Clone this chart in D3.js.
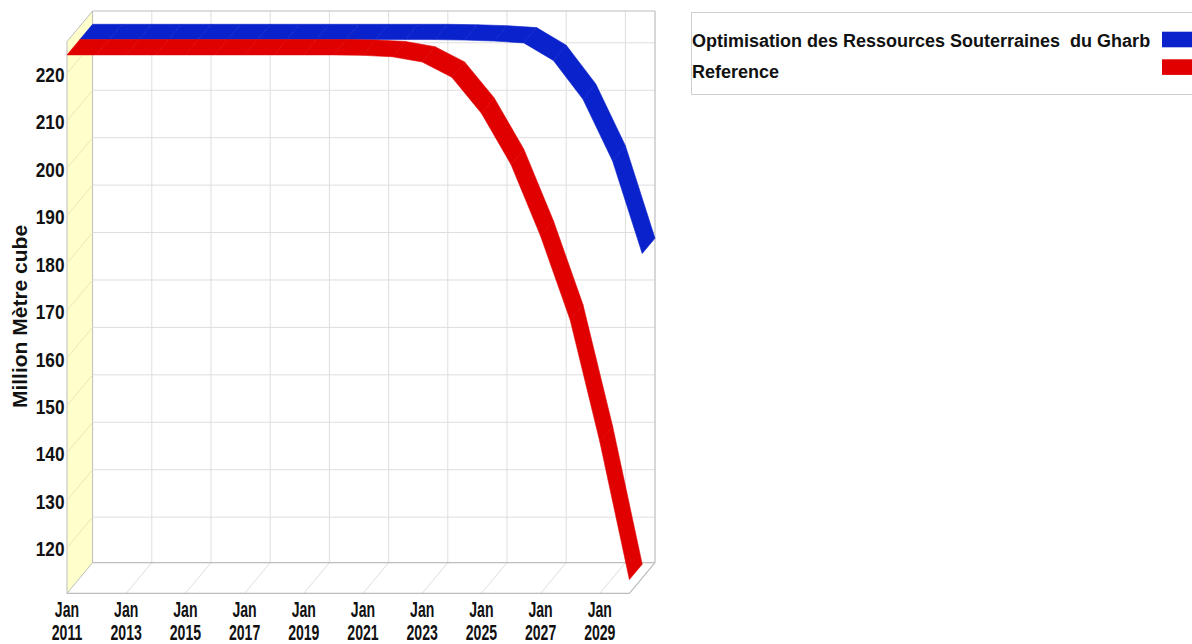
<!DOCTYPE html>
<html>
<head>
<meta charset="utf-8">
<script src="https://cdn.jsdelivr.net/npm/d3@7"></script>
<style>
  html, body { margin: 0; padding: 0; background: #fff; }
  svg { display: block; font-family: "Liberation Sans", Arial, sans-serif; }
  .bold { font-weight: bold; fill: #111; }
</style>
</head>
<body>
<svg id="chart" width="1192" height="644"></svg>
<script>
// Annual values, million m³
const years = [2011, 2012, 2013, 2014, 2015, 2016, 2017, 2018, 2019, 2020,
               2021, 2022, 2023, 2024, 2025, 2026, 2027, 2028, 2029, 2030];
const optimisation = [223.9, 223.9, 223.9, 223.9, 223.9, 223.9, 223.9, 223.9, 223.9, 223.9,
                      223.9, 223.9, 223.9, 223.8, 223.6, 223.2, 219.5, 211.3, 198.3, 178.8];
const reference = [223.9, 223.9, 223.9, 223.9, 223.9, 223.9, 223.9, 223.9, 223.9, 223.9,
                   223.8, 223.5, 222.4, 219.2, 211.6, 200.8, 185.7, 168.0, 142.4, 113.3];
const seriesNames = ["Optimisation des Ressources Souterraines  du Gharb", "Reference"];
const seriesColors = ["#0a22cc", "#e00000"];
const yTicks = [120, 130, 140, 150, 160, 170, 180, 190, 200, 210, 220];
const xTickYears = [2011, 2013, 2015, 2017, 2019, 2021, 2023, 2025, 2027, 2029];
const xTickLabels = xTickYears.map(y => ["Jan", String(y)]);
const yTitle = "Million Mètre cube";

const svg = d3.select("#chart");

// front plane scales; the back wall is offset by the depth vector
const x = d3.scaleLinear().domain([2011, 2030]).range([67, 629.4]);
const y = d3.scaleLinear().domain([110.4, 226.7]).range([593.3, 41.6]);
const depth = { dx: 25.6, dy: -30.6 };
const P = (t, v, z) => [x(t) + z * depth.dx, y(v) + z * depth.dy];
const [y0, y1] = y.range();
const [x0, x1] = x.range();

const gridColor = "#dedede";
const edgeColor = "#bdbdbd";

// back wall
const back = svg.append("g");
back.append("rect")
  .attr("x", x0 + depth.dx).attr("y", y1 + depth.dy)
  .attr("width", x1 - x0).attr("height", y0 - y1)
  .attr("fill", "#fff");
back.selectAll("line.h").data(yTicks).join("line")
  .attr("x1", x0 + depth.dx).attr("x2", x1 + depth.dx)
  .attr("y1", d => y(d) + depth.dy).attr("y2", d => y(d) + depth.dy)
  .attr("stroke", gridColor).attr("stroke-width", 1);
back.selectAll("line.v").data(xTickYears.slice(1)).join("line")
  .attr("x1", d => x(d) + depth.dx).attr("x2", d => x(d) + depth.dx)
  .attr("y1", y1 + depth.dy).attr("y2", y0 + depth.dy)
  .attr("stroke", gridColor).attr("stroke-width", 1);

// floor
const floorPts = [[x0, y0], [x1, y0], [x1 + depth.dx, y0 + depth.dy], [x0 + depth.dx, y0 + depth.dy]];
svg.append("polygon").attr("points", floorPts.map(p => p.join(",")).join(" "))
  .attr("fill", "#fff");
svg.selectAll("line.floor").data(xTickYears.slice(1)).join("line")
  .attr("x1", d => x(d)).attr("y1", y0)
  .attr("x2", d => x(d) + depth.dx).attr("y2", y0 + depth.dy)
  .attr("stroke", gridColor).attr("stroke-width", 1);

// left side wall
const wallPts = [[x0, y0], [x0, y1], [x0 + depth.dx, y1 + depth.dy], [x0 + depth.dx, y0 + depth.dy]];
svg.append("polygon").attr("points", wallPts.map(p => p.join(",")).join(" "))
  .attr("fill", "#ffffcc").attr("stroke", edgeColor).attr("stroke-width", 1);
svg.selectAll("line.wall").data(yTicks).join("line")
  .attr("x1", x0).attr("y1", d => y(d))
  .attr("x2", x0 + depth.dx).attr("y2", d => y(d) + depth.dy)
  .attr("stroke", "#e8e8b8").attr("stroke-width", 1);

// frame edges
const edges = [
  [[x0 + depth.dx, y1 + depth.dy], [x1 + depth.dx, y1 + depth.dy]],
  [[x1 + depth.dx, y1 + depth.dy], [x1 + depth.dx, y0 + depth.dy]],
  [[x0 + depth.dx, y0 + depth.dy], [x1 + depth.dx, y0 + depth.dy]],
  [[x0, y0], [x1, y0]],
  [[x1, y0], [x1 + depth.dx, y0 + depth.dy]]
];
svg.selectAll("line.edge").data(edges).join("line")
  .attr("x1", d => d[0][0]).attr("y1", d => d[0][1])
  .attr("x2", d => d[1][0]).attr("y2", d => d[1][1])
  .attr("stroke", edgeColor).attr("stroke-width", 1.2);

// ribbons: series 0 sits in the back half of the depth, series 1 in the front half
const series = [
  { values: optimisation, color: seriesColors[0], z0: 0.5, z1: 1 },
  { values: reference, color: seriesColors[1], z0: 0, z1: 0.5 }
];
series.forEach(s => {
  const segs = d3.pairs(d3.range(years.length));
  svg.append("g").selectAll("polygon").data(segs).join("polygon")
    .attr("points", ([i, j]) => [
        P(years[i], s.values[i], s.z0), P(years[j], s.values[j], s.z0),
        P(years[j], s.values[j], s.z1), P(years[i], s.values[i], s.z1)
      ].map(p => p.join(",")).join(" "))
    .attr("fill", s.color)
    .attr("stroke", s.color).attr("stroke-width", 0.6)
    .attr("stroke-linejoin", "round");
});

// y tick labels
svg.selectAll("text.ytick").data(yTicks).join("text")
  .attr("class", "bold")
  .attr("transform", d => `translate(64.5,${y(d) + 8.5}) scale(0.82,1)`)
  .attr("text-anchor", "end")
  .style("font-size", "21px")
  .text(d => d);

// x tick labels
const xl = svg.selectAll("g.xtick").data(xTickYears).join("g")
  .attr("transform", d => `translate(${x(d)},0)`);
xl.each(function(d, i) {
  const g = d3.select(this);
  xTickLabels[i].forEach((line, k) => {
    g.append("text").attr("class", "bold")
      .attr("transform", `translate(0,${617 + k * 23}) scale(0.64,1)`)
      .attr("text-anchor", "middle")
      .style("font-size", "22px")
      .text(line);
  });
});

// y axis title
svg.append("text").attr("class", "bold")
  .attr("transform", "translate(26.5,316.5) rotate(-90)")
  .attr("text-anchor", "middle")
  .style("font-size", "21px")
  .text(yTitle);

// legend
const legend = svg.append("g");
legend.append("rect")
  .attr("x", 691.5).attr("y", 12.5).attr("width", 520).attr("height", 82)
  .attr("fill", "#fff").attr("stroke", "#cfcfcf").attr("stroke-width", 1);
seriesNames.forEach((name, i) => {
  legend.append("text").attr("class", "bold")
    .attr("x", 692).attr("y", 46.5 + i * 31.5)
    .style("font-size", "18px").style("white-space", "pre")
    .text(name);
  legend.append("rect")
    .attr("x", 1162).attr("y", 31.7 + i * 27.6)
    .attr("width", 40).attr("height", 15.6)
    .attr("fill", seriesColors[i]);
});
</script>
</body>
</html>
